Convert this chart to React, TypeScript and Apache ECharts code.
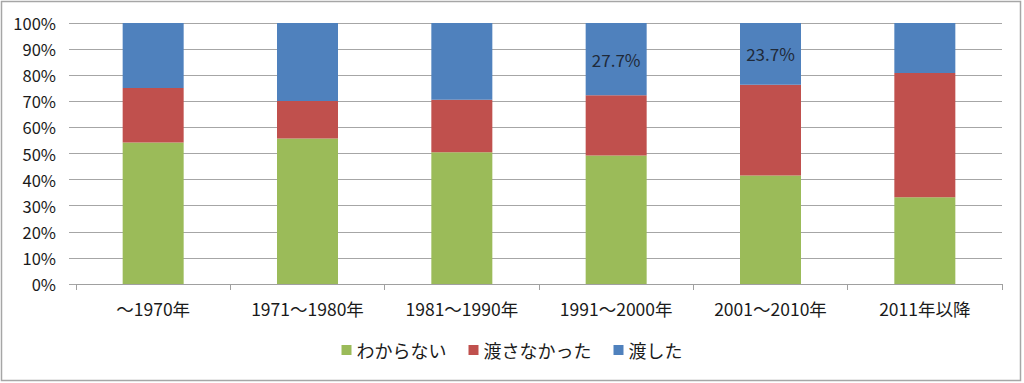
import React, { useEffect, useRef } from "react";
import * as echarts from "echarts";

const categories = ["～1970年", "1971～1980年", "1981～1990年", "1991～2000年", "2001～2010年", "2011年以降"];
const seriesNames = ["わからない", "渡さなかった", "渡した"];
const unknownVals = [54.2, 55.7, 50.5, 49.2, 41.6, 33.2];
const notGivenVals = [20.9, 14.4, 20.1, 23.1, 34.7, 47.6];
const givenVals = [24.9, 29.9, 29.4, 27.7, 23.7, 19.2];
const labeledIdx = [3, 4];
const yTicks = [0, 10, 20, 30, 40, 50, 60, 70, 80, 90, 100];

const FONT = "'Noto Sans CJK JP', 'Noto Sans', sans-serif";

export default function App() {
  const ref = useRef<HTMLDivElement>(null);
  useEffect(() => {
    if (!ref.current) return;
    const chart = echarts.init(ref.current, null, { renderer: "svg" });
    const bar = (name: string, data: any[], color: string) => ({
      name,
      type: "bar",
      stack: "total",
      barWidth: 61,
      itemStyle: { color },
      data,
    });
    chart.setOption({
      animation: false,
      backgroundColor: "#ffffff",
      textStyle: { fontFamily: FONT },
      graphic: [
        {
          type: "rect",
          shape: { x: 1.5, y: 1.5, width: 1019, height: 379 },
          style: { fill: "none", stroke: "#a6a6a6", lineWidth: 1.5 },
          z: 100,
        },
      ],
      grid: { left: 76, right: 22, top: 23, bottom: 99, containLabel: false },
      xAxis: {
        type: "category",
        data: categories,
        boundaryGap: true,
        axisLine: { show: true, lineStyle: { color: "#a0a0a0", width: 1 } },
        axisTick: { show: true, alignWithLabel: false, length: 6, lineStyle: { color: "#a0a0a0" } },
        axisLabel: { color: "#1a1a1a", fontSize: 17.5, margin: 16, fontFamily: FONT },
        splitLine: { show: false },
      },
      yAxis: {
        type: "value",
        min: 0,
        max: 100,
        interval: 10,
        axisLine: { show: false },
        axisTick: { show: true, length: 7, lineStyle: { color: "#a6a6a6" } },
        axisLabel: {
          color: "#1a1a1a",
          fontSize: 16.5,
          margin: 20,
          fontFamily: FONT,
          formatter: (v: number) => (yTicks.includes(v) ? v + "%" : ""),
        },
        splitLine: { show: true, lineStyle: { color: "#a6a6a6", width: 1 } },
      },
      legend: {
        data: seriesNames,
        bottom: 19,
        left: "center",
        itemWidth: 10,
        itemHeight: 10,
        itemGap: 22,
        icon: "rect",
        textStyle: { color: "#1a1a1a", fontSize: 18, fontFamily: FONT },
      },
      series: [
        bar(seriesNames[0], unknownVals, "#9BBB59"),
        bar(seriesNames[1], notGivenVals, "#C0504D"),
        bar(
          seriesNames[2],
          givenVals.map((v, i) =>
            labeledIdx.includes(i)
              ? {
                  value: v,
                  label: {
                    show: true,
                    position: "inside",
                    color: "#1f2a3a",
                    fontSize: 17,
                    fontFamily: FONT,
                    formatter: (p: any) => p.value.toFixed(1) + "%",
                  },
                }
              : v
          ),
          "#4F81BD"
        ),
      ],
    });
    return () => chart.dispose();
  }, []);
  return (
    <div
      ref={ref}
      style={{ position: "absolute", left: 0, top: 0, width: 1024, height: 383 }}
    />
  );
}
